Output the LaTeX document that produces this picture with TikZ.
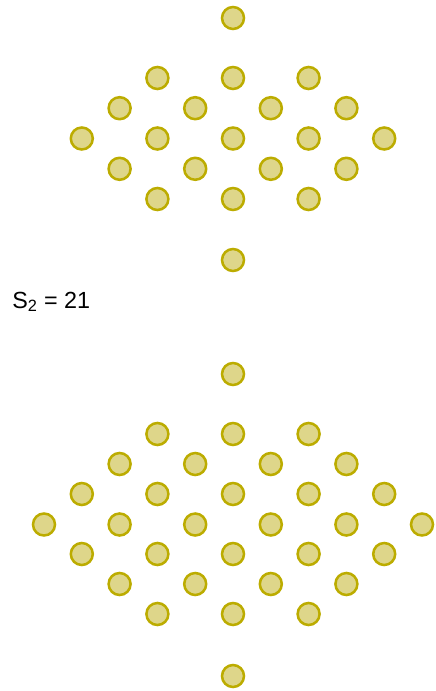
\documentclass[tikz,border=0pt]{standalone}
\usepackage{fontspec}
\setmainfont{Liberation Sans}
\definecolor{dotfill}{RGB}{222,214,138}
\definecolor{dotline}{RGB}{188,172,0}
\begin{document}
\begin{tikzpicture}[x=0.75pt,y=-0.75pt,
  dot/.style={circle,draw=dotline,fill=dotfill,line width=1.9pt,minimum size=16.5pt,inner sep=0pt}]
\useasboundingbox (0,0) rectangle (435,691);
\def\cx{233}\def\sx{37.8}
% top figure (S2 = 21)
\node[dot] (t0) at (\cx,18) {};
\foreach \r/\n/\y in {1/3/78,2/4/108.2,3/5/138.5,4/4/168.8,5/3/199}{
  \foreach \i in {1,...,\n}{
    \node[dot] (t\r-\i) at ({\cx+(\i-(\n+1)/2)*2*\sx},\y) {};
  }
}
\node[dot] (t6) at (\cx,260) {};
\node[anchor=base west,inner sep=0pt,font=\fontsize{17.5}{20}\selectfont] (lab) at (12,308) {S\textsubscript{2} = 21};
% bottom figure
\node[dot] (b0) at (\cx,374) {};
\foreach \r/\n/\y in {1/3/434,2/4/464,3/5/494,4/6/524.5,5/5/554,6/4/584,7/3/614}{
  \foreach \i in {1,...,\n}{
    \node[dot] (b\r-\i) at ({\cx+(\i-(\n+1)/2)*2*\sx},\y) {};
  }
}
\node[dot] (b8) at (\cx,676) {};
\end{tikzpicture}
\end{document}
